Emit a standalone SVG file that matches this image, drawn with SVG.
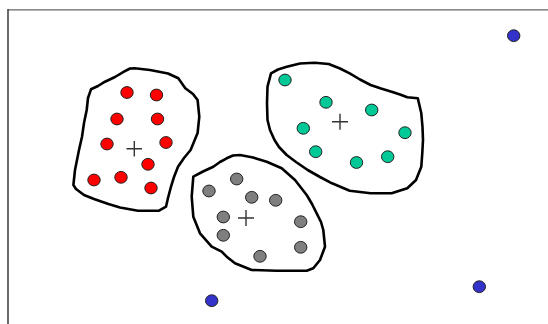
<svg xmlns="http://www.w3.org/2000/svg" width="548" height="324" viewBox="0 0 548 324">
<style>
.blob{fill:#fff;stroke:#000;stroke-width:2.6;stroke-linejoin:round}
.d{stroke:#222;stroke-width:1}
.r{fill:#ff0000}
.t{fill:#00c896}
.g{fill:#7f7f7f}
.b{fill:#3333cc}
.x{stroke:#333;stroke-width:1.4;fill:none}
</style>
<rect width="548" height="324" fill="#fff"/>
<g id="frame">
<line x1="8" y1="9.8" x2="548" y2="9.8" stroke="#666" stroke-width="1.3"/>
<line x1="8" y1="9" x2="8" y2="324" stroke="#444" stroke-width="1.6"/>
</g>
<g id="cluster-red">
<path class="blob" d="M134.6,68.3 L150,70 L168,73.5 L178.3,78.3 L185.3,88.3 L193,94 L197.6,100 L199.3,116.7 L197.6,133 L190.6,150 L184,158 L178,166.7 L174,177 L171,186.7 L168,198 L166,206.7 L159,210.7 L138,210.7 L120,207.5 L108.4,204 L94,199 L84,195 L76,189 L73.4,185 L75,170 L79,150 L82,136.7 L84,123 L86.7,110 L88,98 L91,89.3 L98,86 L105,81.7 L115,77 L124,71.7 L130,68.5 Z"/>
<ellipse class="d r" cx="127" cy="92.5" rx="6.2" ry="5.9"/>
<ellipse class="d r" cx="156.5" cy="95" rx="6.2" ry="5.9"/>
<ellipse class="d r" cx="117" cy="119" rx="6.2" ry="5.9"/>
<ellipse class="d r" cx="157.5" cy="119" rx="6.2" ry="5.9"/>
<ellipse class="d r" cx="107" cy="144" rx="6.2" ry="5.9"/>
<ellipse class="d r" cx="166" cy="142.5" rx="6.2" ry="5.9"/>
<ellipse class="d r" cx="148" cy="164.3" rx="6.2" ry="5.9"/>
<ellipse class="d r" cx="94" cy="180" rx="6.2" ry="5.9"/>
<ellipse class="d r" cx="121" cy="177.3" rx="6.2" ry="5.9"/>
<ellipse class="d r" cx="151" cy="188" rx="6.2" ry="5.9"/>
<path class="x" d="M126.5,148.7 H142 M134.3,141 V156.5"/>
</g>
<g id="cluster-teal">
<path class="blob" d="M314.7,62.7 L328.7,64 L340,68.5 L349.7,73.3 L360,79.5 L370.6,85 L381,88.5 L391.6,91.7 L400,94.5 L407.3,97.3 L417.8,98.3 L421.3,113.3 L422.5,127 L423,140 L422.3,153 L421.3,166.7 L416,180 L407.3,188.3 L391.6,193.3 L370.6,193.3 L349.7,190.7 L332,183.3 L320,177 L307.7,170 L296,162 L286.7,155 L279,147 L274.5,140 L270,130 L267.5,120 L267,103 L267.5,86.7 L271,73.3 L278,69.5 L286.7,66.7 L300,63.5 Z"/>
<ellipse class="d t" cx="285" cy="80" rx="6.2" ry="5.9"/>
<ellipse class="d t" cx="326" cy="102.3" rx="6.2" ry="5.9"/>
<ellipse class="d t" cx="371.7" cy="110" rx="6.2" ry="5.9"/>
<ellipse class="d t" cx="303.3" cy="128.3" rx="6.2" ry="5.9"/>
<ellipse class="d t" cx="405" cy="132.7" rx="6.2" ry="5.9"/>
<ellipse class="d t" cx="315.7" cy="151.7" rx="6.2" ry="5.9"/>
<ellipse class="d t" cx="356.5" cy="162.5" rx="6.2" ry="5.9"/>
<ellipse class="d t" cx="387.7" cy="156.7" rx="6.2" ry="5.9"/>
<path class="x" d="M332,121.7 H348 M340,113.7 V129.7"/>
</g>
<g id="cluster-gray">
<path class="blob" d="M240,155 L253,157.5 L266.7,161.7 L281.7,168.3 L295,180 L306.7,195 L312,204 L316.7,213.3 L321,222 L323.3,230 L325,246.7 L320,260 L313.3,268.3 L306.7,270.7 L276.7,270.7 L251.7,270 L235,263.3 L226.7,256.7 L221.7,251.7 L211.7,246.7 L200,233.3 L193.3,216.7 L191.7,196.7 L193.3,176.7 L203,171.5 L213.3,166.7 L220,162 L226.7,158.3 L233,155.5 Z"/>
<ellipse class="d g" cx="236.7" cy="179" rx="6.2" ry="5.9"/>
<ellipse class="d g" cx="209" cy="191" rx="6.2" ry="5.9"/>
<ellipse class="d g" cx="251.7" cy="197.3" rx="6.2" ry="5.9"/>
<ellipse class="d g" cx="275.7" cy="200.3" rx="6.2" ry="5.9"/>
<ellipse class="d g" cx="223.3" cy="217" rx="6.2" ry="5.9"/>
<ellipse class="d g" cx="300.7" cy="221.7" rx="6.2" ry="5.9"/>
<ellipse class="d g" cx="223.3" cy="235.3" rx="6.2" ry="5.9"/>
<ellipse class="d g" cx="300.7" cy="247.3" rx="6.2" ry="5.9"/>
<ellipse class="d g" cx="260" cy="256.3" rx="6.2" ry="5.9"/>
<path class="x" d="M238,218 H254 M246,210 V226"/>
</g>
<g id="outliers">
<ellipse class="d b" cx="513.7" cy="35.7" rx="6.2" ry="5.9"/>
<ellipse class="d b" cx="211.7" cy="300.7" rx="6.2" ry="5.9"/>
<ellipse class="d b" cx="479.3" cy="286.7" rx="6.2" ry="5.9"/>
</g>
</svg>
